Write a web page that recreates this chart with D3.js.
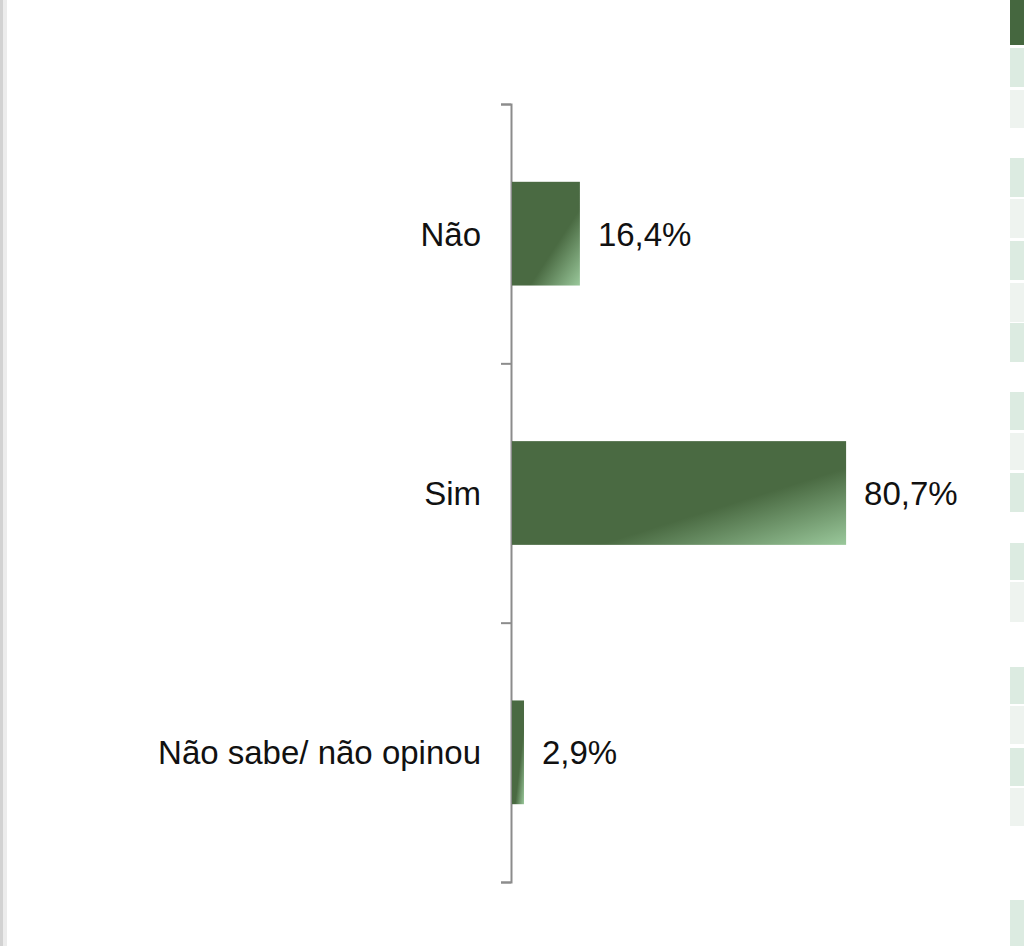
<!DOCTYPE html>
<html>
<head>
<meta charset="utf-8">
<script src="https://cdn.jsdelivr.net/npm/d3@7"></script>
<style>
  body { margin: 0; background: #fff; }
  svg { display: block; font-family: "Liberation Sans", Arial, sans-serif; }
  .cat-axis text { font-size: 33px; fill: #111; }
  .value { font-size: 33px; fill: #111; }
</style>
</head>
<body>
<div id="chart"></div>
<script>
// chart data
const categories = ["Não", "Sim", "Não sabe/ não opinou"];
const values = [16.4, 80.7, 2.9];
const valueLabels = ["16,4%", "80,7%", "2,9%"];

// decorative strip on the right edge (slide table peeking in): [top, bottom, shade]
const stripCells = [
    [0, 45, "dark"], [48, 87, "mid"], [90, 128, "pale"],
    [158, 197, "mid"], [199, 238, "pale"], [241, 280, "mid"], [283, 322, "pale"],
    [323, 362, "mid"], [392, 430, "mid"], [433, 470, "pale"],
    [473, 512, "mid"], [543, 580, "mid"], [582, 622, "pale"],
    [667, 704, "mid"], [706, 744, "pale"], [748, 786, "mid"], [788, 826, "pale"],
    [900, 946, "mid"]
];

const W = 1024, H = 946;
const margin = {top: 104, left: 511, bottom: 64};

const svg = d3.select("#chart").append("svg")
    .attr("width", W)
    .attr("height", H);

// left page edge
svg.append("rect").attr("x", 0).attr("y", 0).attr("width", 3).attr("height", H).attr("fill", "#d2d2d2");
svg.append("rect").attr("x", 3).attr("y", 0).attr("width", 4).attr("height", H).attr("fill", "#ececec");

// right strip
const shades = {dark: "#45673f", mid: "#dcebe1", pale: "#eef3ef"};
svg.append("g").selectAll("rect").data(stripCells).enter().append("rect")
    .attr("x", 1010)
    .attr("y", d => d[0])
    .attr("width", 14)
    .attr("height", d => d[1] - d[0])
    .attr("fill", d => shades[d[2]]);

// gradient for bars
const grad = svg.append("defs").append("linearGradient")
    .attr("id", "barGrad")
    .attr("x1", 0).attr("y1", 0).attr("x2", 1).attr("y2", 1);
grad.append("stop").attr("offset", "0%").attr("stop-color", "#4a6a42");
grad.append("stop").attr("offset", "63%").attr("stop-color", "#4a6a42");
grad.append("stop").attr("offset", "100%").attr("stop-color", "#9ac89b");

const plotH = H - margin.top - margin.bottom;

const g = svg.append("g")
    .attr("transform", `translate(${margin.left}, ${margin.top})`);

const x = d3.scaleLinear().domain([0, 100]).range([0, 414]);

const y = d3.scaleBand()
    .domain(categories)
    .range([0, plotH])
    .paddingInner(0.6)
    .paddingOuter(0.3);

// axis line with ticks at category boundaries
const yEdge = d3.scaleLinear().domain([0, categories.length]).range([0, plotH]);
const edgeAxis = g.append("g")
    .call(d3.axisLeft(yEdge).tickValues(d3.range(categories.length + 1)).tickSize(10).tickFormat(""));
edgeAxis.selectAll("path, line").attr("stroke", "#8c8c8c").attr("stroke-width", 2);

// category labels
const catAxis = g.append("g")
    .attr("class", "cat-axis")
    .call(d3.axisLeft(y).tickSize(0).tickPadding(30));
catAxis.select(".domain").remove();
catAxis.selectAll("text")
    .attr("dy", "0.36em")
    .style("font-family", "'Liberation Sans', Arial, sans-serif");

// bars
g.selectAll(".bar").data(values).enter().append("rect")
    .attr("class", "bar")
    .attr("x", 1)
    .attr("y", (d, i) => y(categories[i]))
    .attr("width", d => x(d))
    .attr("height", y.bandwidth())
    .attr("fill", "url(#barGrad)");

// value labels
g.selectAll(".value").data(values).enter().append("text")
    .attr("class", "value")
    .attr("x", d => x(d) + 19)
    .attr("y", (d, i) => y(categories[i]) + y.bandwidth() / 2)
    .attr("dy", "0.36em")
    .text((d, i) => valueLabels[i]);
</script>
</body>
</html>
